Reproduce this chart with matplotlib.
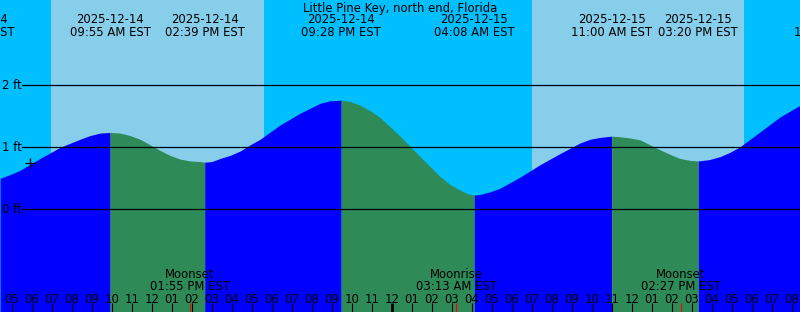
import numpy as np
import pandas as pd
import matplotlib
matplotlib.use('Agg')
import matplotlib.pyplot as plt

title = 'Little Pine Key, north end, Florida'
start = pd.Timestamp('2025-12-14 00:00')

# water level: hours after 2025-12-14 00:00 EST, feet
curve_hours = [4.42, 4.92, 5.42, 6.42, 7.42, 8.42, 8.92, 9.42, 9.92, 10.42,
               10.92, 11.42, 11.92, 12.42, 12.92, 13.42, 13.92, 14.42, 14.65, 15.0,
               15.42, 15.92, 16.42, 16.92, 17.42, 18.42, 19.42, 20.42, 20.92, 21.47,
               21.92, 22.42, 22.92, 23.42, 24.42, 25.42, 26.42, 26.92, 27.42, 27.8,
               28.13, 28.42, 28.9, 29.42, 30.42, 31.42, 32.42, 33.42, 33.92, 34.42,
               35.0, 35.42, 35.92, 36.42, 36.92, 37.42, 37.92, 38.42, 38.9, 39.33,
               39.85, 40.42, 40.92, 41.42, 42.42, 43.42, 44.42]
curve_ft = [0.50, 0.56, 0.63, 0.82, 1.00, 1.13, 1.19, 1.23, 1.24, 1.23,
            1.19, 1.13, 1.04, 0.95, 0.87, 0.81, 0.78, 0.77, 0.76, 0.77,
            0.82, 0.87, 0.94, 1.04, 1.13, 1.36, 1.55, 1.71, 1.75, 1.76,
            1.74, 1.68, 1.59, 1.48, 1.18, 0.85, 0.53, 0.40, 0.31, 0.25,
            0.23, 0.24, 0.28, 0.34, 0.52, 0.72, 0.90, 1.07, 1.13, 1.16,
            1.18, 1.17, 1.15, 1.12, 1.04, 0.96, 0.885, 0.82, 0.79, 0.78,
            0.80, 0.85, 0.92, 1.01, 1.25, 1.49, 1.68]

# high / low tide times
tide_times = ['2025-12-14 03:08', '2025-12-14 09:55', '2025-12-14 14:39',
              '2025-12-14 21:28', '2025-12-15 04:08', '2025-12-15 11:00',
              '2025-12-15 15:20', '2025-12-15 22:06']

moon_names = ['Moonset', 'Moonrise', 'Moonset']
moon_times = ['2025-12-14 13:55', '2025-12-15 03:13', '2025-12-15 14:27']

sunrise = ['2025-12-14 06:58', '2025-12-15 07:01']
sunset = ['2025-12-14 17:37', '2025-12-15 17:37']

now_time = '2025-12-14 05:55'
now_ft = 0.75

level_ticks = [0, 1, 2]
hour_ticks = list(range(4, 46))


def hrs(s):
    return (pd.Timestamp(s) - start) / pd.Timedelta(hours=1)


H = 312.0
def fy(px):
    # pixel row from the top -> axes fraction
    return 1 - px / H


fig = plt.figure(figsize=(8, 3.12), dpi=100)
ax = fig.add_axes([0, 0, 1, 1])
ax.set_axis_off()
ax.set_xlim(4.415, 44.415)
ax.set_ylim(-1.656, 3.376)
fs = 8.4
xt = ax.get_xaxis_transform()
yt = ax.get_yaxis_transform()

# night / day background
ax.axvspan(4.415, 44.415, color='#00bfff', lw=0, zorder=0)
for a, b in zip(sunrise, sunset):
    ax.axvspan(hrs(a), hrs(b), color='#87ceeb', lw=0, zorder=0)

# water: blue while rising, green while falling
t = np.array(curve_hours)
h = np.array(curve_ft)
i = 0
while i < len(t) - 1:
    rising = h[i + 1] > h[i]
    j = i + 1
    while j < len(t) - 1 and (h[j + 1] > h[j]) == rising:
        j += 1
    ax.fill_between(t[i:j + 1], h[i:j + 1], -2, color='#0000ff' if rising else '#2e8b57',
                    lw=0, zorder=1)
    i = j

# level lines
for lv in level_ticks:
    ax.axhline(lv, xmin=22 / 800, xmax=1, color='black', lw=0.9, zorder=2)
    ax.text(2.5 / 800, lv, '%d ft' % lv, transform=yt, fontsize=fs, va='center',
            ha='left', zorder=3)

# current time marker
ax.plot([hrs(now_time)], [now_ft], marker='+', color='black', ms=7, mew=0.9, zorder=3)

# title and tide labels
ax.text(0.5, fy(11.7), title, transform=ax.transAxes, ha='center', va='baseline',
        fontsize=fs, zorder=3)
for s in tide_times:
    ts = pd.Timestamp(s)
    x = hrs(s)
    ax.text(x, fy(23.3), ts.strftime('%Y-%m-%d'), transform=xt, ha='center',
            va='baseline', fontsize=fs, zorder=3)
    ax.text(x, fy(36), ts.strftime('%I:%M %p EST'), transform=xt, ha='center',
            va='baseline', fontsize=fs, zorder=3)

# hour ticks along the bottom
for hr in hour_ticks:
    lw = 2.0 if hr % 24 == 0 else 0.8
    ax.plot([hr, hr], [0, fy(303)], transform=xt, color='black', lw=lw,
            solid_capstyle='butt', zorder=3)
    lab = '%02d' % (hr % 12 if hr % 12 else 12)
    ax.text(hr, fy(302.7), lab, transform=xt, ha='center', va='baseline',
            fontsize=fs, zorder=3)

# moon events
for name, s in zip(moon_names, moon_times):
    x = hrs(s)
    ax.plot([x, x], [0, fy(303)], transform=xt, color='red', lw=0.8,
            solid_capstyle='butt', zorder=3)
    ax.text(x, fy(278), name, transform=xt, ha='center', va='baseline',
            fontsize=fs, zorder=3)
    ax.text(x, fy(290), pd.Timestamp(s).strftime('%I:%M %p EST'), transform=xt,
            ha='center', va='baseline', fontsize=fs, zorder=3)

fig.savefig('out.png', dpi=100)
